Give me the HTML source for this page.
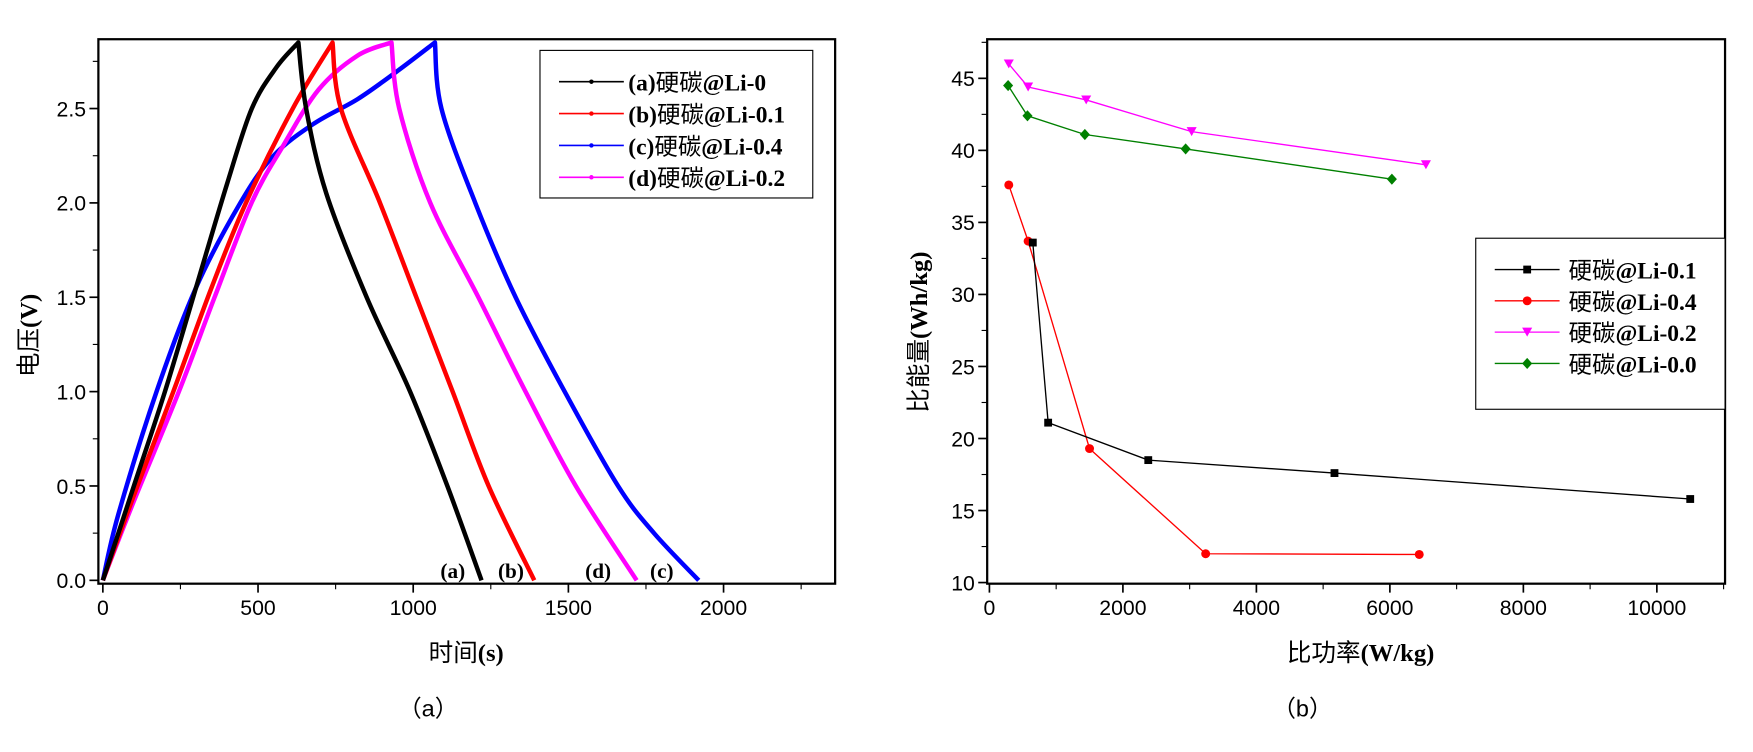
<!DOCTYPE html>
<html><head><meta charset="utf-8"><style>
body{margin:0;background:#fff;width:1753px;height:747px;overflow:hidden}
svg text{font-family:"Liberation Sans","Noto Sans CJK SC",sans-serif}
.ser{font-family:"Liberation Serif","Noto Serif CJK SC",serif;font-weight:bold}
</style></head><body>
<svg id="s" width="1753" height="747" viewBox="0 0 1568 668"></svg>
<script>
// ---- Chart (a) data ----
const aT=[0,100,200,300,400,480,560,630,655,720,850,990,1110,1220];
const aV=[0,0.5,1.0,1.55,2.1,2.5,2.72,2.85,2.5,2.05,1.5,1.0,0.5,0];
const bT=[0,100,227,350,461,612,740,767,893,1010,1127,1243,1390];
const bV=[0,0.45,1.0,1.55,2.0,2.5,2.85,2.5,2.0,1.5,1.0,0.5,0];
const dT=[0,100,245,360,479,580,695,820,930,955,1055,1210,1362,1524,1720];
const dV=[0,0.42,1.0,1.5,2.0,2.3,2.6,2.78,2.85,2.5,2.0,1.5,1.0,0.5,0];
const cT=[0,50,173,300,443,550,680,821,950,1070,1091,1200,1330,1488,1660,1776,1920];
const cV=[0,0.35,1.0,1.55,2.0,2.25,2.42,2.55,2.7,2.85,2.5,2.0,1.5,1.0,0.5,0.25,0];
const aXTicks=[0,500,1000,1500,2000];
const aYTicks=[0,0.5,1,1.5,2,2.5];
// ---- Chart (b) data ----
const k1P=[650,880,2380,5170,10500], k1E=[33.6,21.1,18.5,17.6,15.8];
const k4P=[290,580,1500,3240,6440], k4E=[37.6,33.7,19.3,12.0,11.95];
const k2P=[290,580,1450,3030,6540], k2E=[46.0,44.4,43.5,41.3,39.0];
const k0P=[280,570,1430,2940,6030], k0E=[44.5,42.4,41.1,40.1,38.0];
const bXTicks=[0,2000,4000,6000,8000,10000];
const bYTicks=[10,15,20,25,30,35,40,45];

const S=document.getElementById('s');const NS='http://www.w3.org/2000/svg';
function el(t,a,txt){const e=document.createElementNS(NS,t);for(const k in a)e.setAttribute(k,a[k]);if(txt!==undefined)e.textContent=txt;S.appendChild(e);return e;}
const ax=t=>92+t*0.2776, ay=v=>519-v*168.8;
const bx=p=>885+p*0.0597, by=e=>521-(e-10)*12.886;

let f=el('rect',{x:88,y:35,width:659,height:487,fill:'none',stroke:'#000','stroke-width':2});

f=el('rect',{x:883,y:35,width:660,height:487,fill:'none',stroke:'#000','stroke-width':2});


aXTicks.forEach(t=>{el('line',{x1:ax(t),x2:ax(t),y1:522,y2:530,stroke:'#000','stroke-width':1.5});
 const tx=el('text',{x:ax(t),y:550,'font-size':19,'text-anchor':'middle'},t);
 
 el('line',{x1:ax(t+250),x2:ax(t+250),y1:522,y2:527,stroke:'#000','stroke-width':1});});
aYTicks.forEach(v=>{el('line',{x1:80,x2:88,y1:ay(v),y2:ay(v),stroke:'#000','stroke-width':1.5});
 const tx=el('text',{x:77,y:ay(v)+7,'font-size':19,'text-anchor':'end'},v.toFixed(1));
 
 el('line',{x1:83,x2:88,y1:ay(v+0.25),y2:ay(v+0.25),stroke:'#000','stroke-width':1});});
bXTicks.forEach(t=>{el('line',{x1:bx(t),x2:bx(t),y1:522,y2:530,stroke:'#000','stroke-width':1.5});
 const tx=el('text',{x:bx(t),y:550,'font-size':19,'text-anchor':'middle'},t);
 
 if(bx(t+1000)<1543)el('line',{x1:bx(t+1000),x2:bx(t+1000),y1:522,y2:527,stroke:'#000','stroke-width':1});});
bYTicks.forEach(v=>{el('line',{x1:875,x2:883,y1:by(v),y2:by(v),stroke:'#000','stroke-width':1.5});
 const tx=el('text',{x:872,y:by(v)+7,'font-size':19,'text-anchor':'end'},v);
 
 el('line',{x1:878,x2:883,y1:by(v+2.5),y2:by(v+2.5),stroke:'#000','stroke-width':1});});

function smooth(P){let d='M'+P[0][0]+','+P[0][1];
 for(let i=0;i<P.length-1;i++){const p0=P[Math.max(i-1,0)],p1=P[i],p2=P[i+1],p3=P[Math.min(i+2,P.length-1)];
  const c1=[p1[0]+(p2[0]-p0[0])/6,p1[1]+(p2[1]-p0[1])/6],c2=[p2[0]-(p3[0]-p1[0])/6,p2[1]-(p3[1]-p1[1])/6];
  d+=` C${c1[0]},${c1[1]} ${c2[0]},${c2[1]} ${p2[0]},${p2[1]}`;}return d;}
function curve(T,V,col,name){const pk=V.indexOf(Math.max(...V));
 const pts=T.map((t,i)=>[ax(t),ay(V[i])]);
 const d=smooth(pts.slice(0,pk+1))+' '+smooth(pts.slice(pk)).replace('M','L');
 const p=el('path',{d:d,fill:'none',stroke:col,'stroke-width':4,'stroke-linejoin':'round'});
 }
curve(cT,cV,'#0000ff','curve-c');curve(dT,dV,'#ff00ff','curve-d');curve(bT,bV,'#ff0000','curve-b');curve(aT,aV,'#000','curve-a');
[['(a)',405],['(b)',457],['(d)',535],['(c)',592]].forEach(l=>{const t=el('text',{x:l[1],y:517,'font-size':19,'text-anchor':'middle',class:'ser'},l[0]);
 });

function ser(P,E,col,mk,name){const p=el('polyline',{points:P.map((x,i)=>bx(x)+','+by(E[i])).join(' '),fill:'none',stroke:col,'stroke-width':1.2});
 
 P.forEach((x,i)=>{marker(bx(x),by(E[i]),col,mk,name);});}
function marker(x,y,col,mk,name){let m;
 if(mk=='sq')m=el('rect',{x:x-3.5,y:y-3.5,width:7,height:7,fill:col});
 else if(mk=='ci')m=el('circle',{cx:x,cy:y,r:4,fill:col});
 else if(mk=='tri')m=el('polygon',{points:`${x-4.5},${y-4} ${x+4.5},${y-4} ${x},${y+4}`,fill:col});
 else m=el('polygon',{points:`${x},${y-5} ${x+4.5},${y} ${x},${y+5} ${x-4.5},${y}`,fill:col});
 }
ser(k2P,k2E,'#ff00ff','tri','series-li-0.2');ser(k0P,k0E,'#008000','dia','series-li-0.0');
ser(k4P,k4E,'#ff0000','ci','series-li-0.4');ser(k1P,k1E,'#000','sq','series-li-0.1');

let lg=el('rect',{x:483,y:45,width:244,height:132,fill:'#fff',stroke:'#000','stroke-width':1});

[['(a)','硬碳@Li-0','#000'],['(b)','硬碳@Li-0.1','#ff0000'],['(c)','硬碳@Li-0.4','#0000ff'],['(d)','硬碳@Li-0.2','#ff00ff']].forEach((l,i)=>{
 const y=73+i*28.5;el('line',{x1:500,x2:558,y1:y,y2:y,stroke:l[2],'stroke-width':1.5});el('circle',{cx:529,cy:y,r:2,fill:l[2]});
 const t=el('text',{x:562,y:y+8,'font-size':21,class:'ser'});t.innerHTML=`${l[0]}<tspan style="font-family:'Noto Sans CJK SC',sans-serif;font-weight:normal">硬碳</tspan>@Li-${l[1].split('-')[1]}`;
 });
lg=el('rect',{x:1320,y:213,width:223,height:153,fill:'#fff',stroke:'#000','stroke-width':1});

[['硬碳@Li-0.1','#000','sq'],['硬碳@Li-0.4','#ff0000','ci'],['硬碳@Li-0.2','#ff00ff','tri'],['硬碳@Li-0.0','#008000','dia']].forEach((l,i)=>{
 const y=241+i*28;el('line',{x1:1337,x2:1395,y1:y,y2:y,stroke:l[1],'stroke-width':1.2});marker(1366,y,l[1],l[2],'legend-b');
 const t=el('text',{x:1403,y:y+8,'font-size':21,class:'ser'});t.innerHTML=`<tspan style="font-family:'Noto Sans CJK SC',sans-serif;font-weight:normal">硬碳</tspan>@Li-${l[0].split('-')[1]}`;
 });

function tt(x,y,html,name,rot){const t=el('text',{x:x,y:y,'font-size':22,'text-anchor':'middle',class:'ser'});
 if(rot)t.setAttribute('transform',`rotate(-90 ${x} ${y})`);t.innerHTML=html;
 }
const cj=s=>`<tspan style="font-family:'Noto Sans CJK SC',sans-serif;font-weight:normal">${s}</tspan>`;
tt(417,591,cj('时间')+'(s)','x-axis-title-a');
tt(33,300,cj('电压')+'(V)','y-axis-title-a',1);
tt(1217,591,cj('比功率')+'(W/kg)','x-axis-title-b');
tt(829,297,cj('比能量')+'(Wh/kg)','y-axis-title-b',1);
let c=el('text',{x:383,y:641,'font-size':21,'text-anchor':'middle'},'（a）');
c=el('text',{x:1165,y:641,'font-size':21,'text-anchor':'middle'},'（b）');
</script>
</body></html>
